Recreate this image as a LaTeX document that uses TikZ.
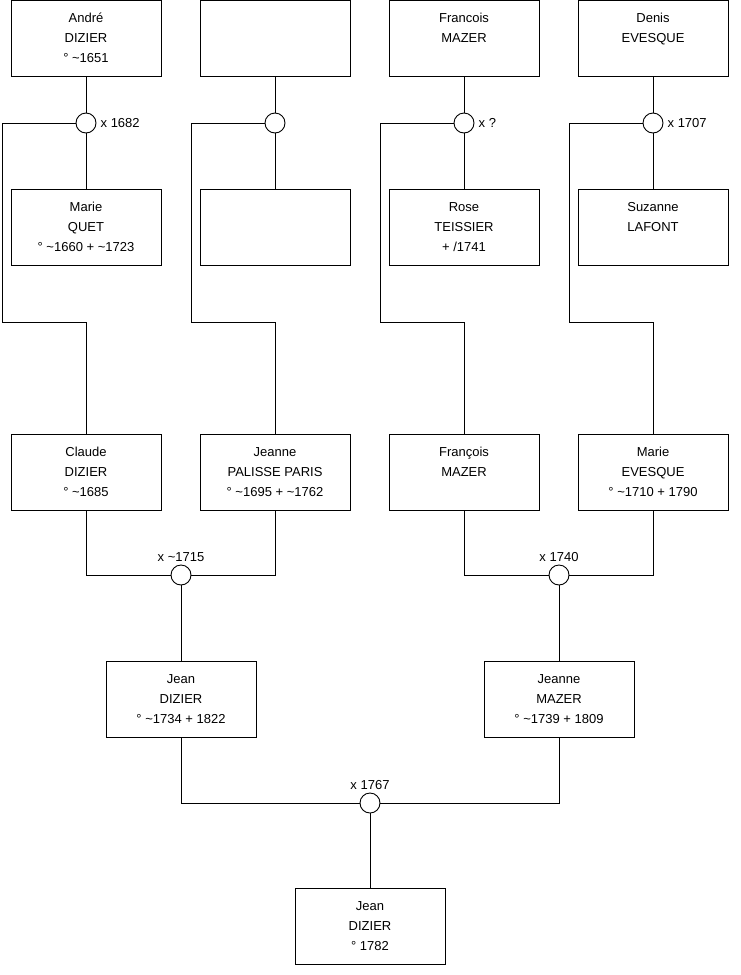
\documentclass[tikz,border=0pt]{standalone}
\usepackage{fontspec}
\setmainfont{Liberation Sans}
\usetikzlibrary{positioning}
\newcommand{\ca}{\textasciitilde}
\newcommand{\pers}[3]{\strut#1\\\strut#2\\\strut#3}

\begin{document}
\begin{tikzpicture}[x=1pt,y=1pt,
  person/.style={draw,line width=.9pt,minimum width=150pt,minimum height=76pt,inner sep=0pt,align=center,font=\fontsize{13}{20}\selectfont},
  union/.style={draw,line width=.9pt,circle,fill=white,minimum size=20pt,inner sep=0pt},
  wed/.style={font=\fontsize{13}{15}\selectfont,inner sep=1pt},
  link/.style={line width=.9pt}]
\useasboundingbox (0,0) rectangle (740,-975);
% grandparents
\node[person] (fa1) at (86,-38) {\pers{André}{DIZIER}{° \ca1651}};
\node[person] (fa2) at (275,-38) {};
\node[person] (fa3) at (464,-38) {\pers{Francois}{MAZER}{}};
\node[person] (fa4) at (653,-38) {\pers{Denis}{EVESQUE}{}};
\node[person] (mo1) at (86,-227) {\pers{Marie}{QUET}{° \ca1660 + \ca1723}};
\node[person] (mo2) at (275,-227) {};
\node[person] (mo3) at (464,-227) {\pers{Rose}{TEISSIER}{+ /1741}};
\node[person] (mo4) at (653,-227) {\pers{Suzanne}{LAFONT}{}};
\foreach \i/\x in {1/86,2/275,3/464,4/653}{
  \node[union] (mar\i) at (\x,-123) {};
  \coordinate (bend\i) at (\x-84,-322);
}
\node[wed,right=3pt of mar1] (w1) {x 1682};
\node[wed,right=3pt of mar3] (w3) {x ?};
\node[wed,right=3pt of mar4] (w4) {x 1707};
% parents
\node[person] (ch1) at (86,-472) {\pers{Claude}{DIZIER}{° \ca1685}};
\node[person] (ch2) at (275,-472) {\pers{Jeanne}{PALISSE PARIS}{° \ca1695 + \ca1762}};
\node[person] (ch3) at (464,-472) {\pers{François}{MAZER}{}};
\node[person] (ch4) at (653,-472) {\pers{Marie}{EVESQUE}{° \ca1710 + 1790}};
\foreach \i in {1,...,4}{
  \draw[link] (fa\i) -- (mar\i);
  \draw[link] (mar\i) -- (mo\i);
  \draw[link] (mar\i.west) -| (bend\i) -| (ch\i.north);
}
\node[union] (mar5) at (181,-575) {};
\node[union] (mar6) at (559,-575) {};
\node[wed,above=2pt of mar5] (w5) {x \ca1715};
\node[wed,above=2pt of mar6] (w6) {x 1740};
\node[person] (p1) at (181,-699.5) {\pers{Jean}{DIZIER}{° \ca1734 + 1822}};
\node[person] (p2) at (559,-699.5) {\pers{Jeanne}{MAZER}{° \ca1739 + 1809}};
\draw[link] (ch1.south) |- (mar5.west);
\draw[link] (ch2.south) |- (mar5.east);
\draw[link] (ch3.south) |- (mar6.west);
\draw[link] (ch4.south) |- (mar6.east);
\draw[link] (mar5) -- (p1);
\draw[link] (mar6) -- (p2);
% last couple
\node[union] (mar7) at (370,-803) {};
\node[wed,above=2pt of mar7] (w7) {x 1767};
\node[person] (root) at (370,-926) {\pers{Jean}{DIZIER}{° 1782}};
\draw[link] (p1.south) |- (mar7.west);
\draw[link] (p2.south) |- (mar7.east);
\draw[link] (mar7) -- (root);
\end{tikzpicture}
\end{document}
